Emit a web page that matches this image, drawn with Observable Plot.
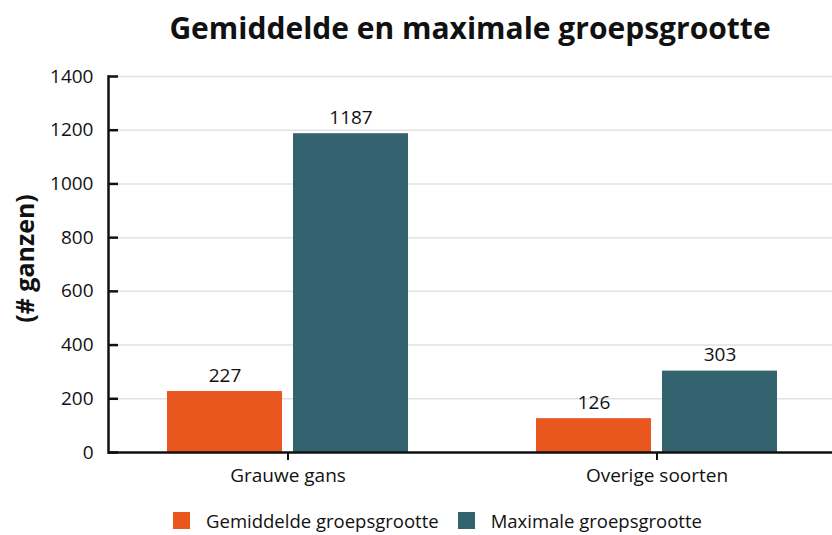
<!DOCTYPE html>
<html>
<head>
<meta charset="utf-8">
<script src="https://cdn.jsdelivr.net/npm/d3@7"></script>
<script src="https://cdn.jsdelivr.net/npm/@observablehq/plot@0.6"></script>
<style>
  body { margin: 0; background: #fff; font-family: "Open Sans", sans-serif; color: #111; }
  #title { width: 832px; height: 56px; line-height: 56px; font-size: 30px; font-weight: bold; text-align: center; padding-left: 108px; box-sizing: border-box; }
  #legend { width: 832px; display: flex; justify-content: center; padding-left: 62px; box-sizing: border-box; margin-top: 8px; }
  .lg-swatch { margin-right: 19px !important; font-size: 18.5px !important; font-family: "Open Sans", sans-serif; color: #111; }
  .lg-swatch > svg { margin-right: 16px !important; }
</style>
</head>
<body>
<div id="title">Gemiddelde en maximale groepsgrootte</div>
<div id="chart"></div>
<div id="legend"></div>
<script>
const categories = ["Grauwe gans", "Overige soorten"];
const series = ["Gemiddelde groepsgrootte", "Maximale groepsgrootte"];
const gemiddelde = [227, 126];
const maximale = [1187, 303];
const yTicks = [0, 200, 400, 600, 800, 1000, 1200, 1400];
const yLabel = "(# ganzen)";
const colors = ["#E9571E", "#33636E"];

const data = categories.flatMap((c, i) => [
  {category: c, series: series[0], value: gemiddelde[i]},
  {category: c, series: series[1], value: maximale[i]}
]);

const chart = Plot.plot({
  width: 832,
  height: 440,
  marginLeft: 107,
  marginRight: -14,
  marginTop: 20,
  marginBottom: 44,
  style: {fontFamily: "Open Sans, sans-serif", fontSize: "17px", color: "#111", background: "#fff"},
  fx: {domain: categories, padding: 0, label: null},
  x: {domain: series, paddingInner: 0.0866, paddingOuter: 0.498, axis: null},
  y: {domain: [0, 1400]},
  color: {domain: series, range: colors},
  marks: [
    Plot.gridY(yTicks, {stroke: "#e2e2e2", strokeOpacity: 1, strokeWidth: 1.5}),
    Plot.barY(data, {fx: "category", x: "series", y: "value", fill: "series", dx: -5}),
    Plot.text(data, {fx: "category", x: "series", y: "value", text: d => String(d.value), lineAnchor: "bottom", dy: -10, dx: -5, fontSize: 19, fill: "#111"}),
    Plot.ruleY([0], {stroke: "#111", strokeWidth: 2.5}),
    Plot.frame({anchor: "left", facetAnchor: "left", stroke: "#111", strokeWidth: 2.5}),
    Plot.axisY(yTicks, {tickSize: -10, tickPadding: 25, strokeWidth: 2.5, fontSize: 19, tickFormat: d => String(d), label: null}),
    Plot.text([yLabel], {text: d => d, frameAnchor: "left", facetAnchor: "left", rotate: -90, textAnchor: "middle", lineAnchor: "middle", dx: -83, dy: -6, fontSize: 25, fontWeight: "bold", fill: "#111"}),
    Plot.axisFx({anchor: "bottom", tickSize: 8, strokeWidth: 2, tickPadding: 8, fontSize: 19, dx: -5, label: null})
  ]
});
document.getElementById("chart").appendChild(chart);

const legend = Plot.legend({
  color: {domain: series, range: colors},
  className: "lg",
  swatchSize: 17,
  style: {fontFamily: "Open Sans, sans-serif", fontSize: "18.5px"}
});
document.getElementById("legend").appendChild(legend);
</script>
</body>
</html>
